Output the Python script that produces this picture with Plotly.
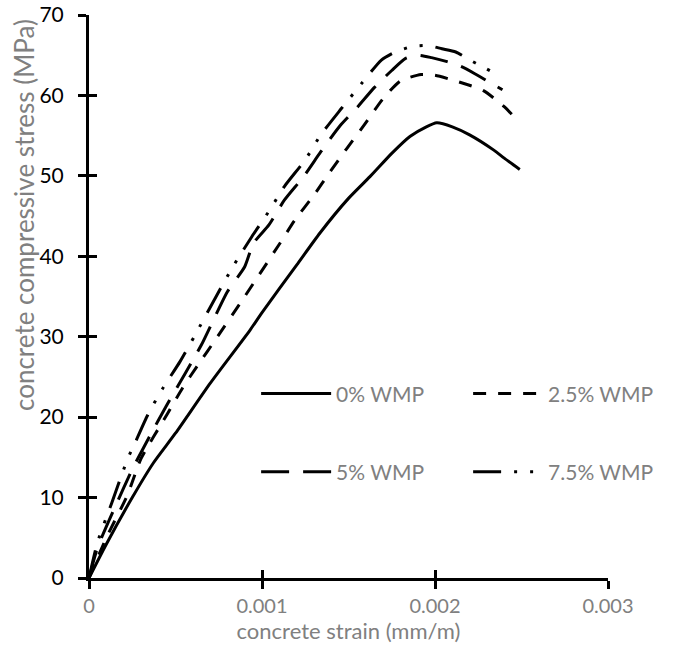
import plotly.graph_objects as go

# strain (mm/m) and stress (MPa)
strain_0 = [0, 0.0001, 0.00025, 0.000372, 0.0005, 0.0007, 0.00093, 0.001, 0.0012, 0.001335,
            0.0015, 0.001624, 0.00175, 0.001855, 0.00195, 0.00201, 0.0021, 0.0022, 0.00234,
            0.0024, 0.00249]
stress_0 = [0, 4.2, 10, 14.3, 18, 24.2, 30.8, 33.0, 38.9, 42.9,
            47.2, 49.9, 52.8, 54.9, 56.1, 56.6, 56.1, 55.1, 53.2,
            52.2, 50.8]

strain_25 = [0, 0.0001, 0.000222, 0.0003, 0.00045, 0.00054, 0.00063, 0.00073, 0.0009, 0.0011,
             0.00119, 0.0013, 0.00139, 0.00149, 0.00159, 0.0017, 0.0018, 0.00192, 0.002,
             0.00212, 0.00228, 0.0024, 0.00245]
stress_25 = [0, 5, 10.3, 14.8, 20.3, 23.6, 26.5, 29.6, 35, 41.5,
             44.5, 47.6, 50.4, 53.4, 56.3, 59.6, 61.8, 62.6, 62.5,
             61.8, 60.6, 58.6, 57.5]

strain_5 = [0, 0.00005, 0.00015, 0.00025, 0.00035, 0.00045, 0.00055, 0.00065, 0.0008, 0.0009,
            0.00095, 0.00104, 0.00113, 0.00124, 0.00134, 0.00145, 0.00155, 0.00165, 0.00175,
            0.00183, 0.0019, 0.00198, 0.00207, 0.00215, 0.00223, 0.00231, 0.00239]
stress_5 = [0, 3.8, 8.8, 13.5, 17.6, 21.5, 25.2, 29.0, 35.6, 38.7,
            41.6, 43.9, 47.0, 49.9, 53.0, 56.2, 58.5, 61.0, 63.1,
            64.6, 65.0, 64.7, 64.2, 63.6, 62.7, 61.7, 60.7]

strain_75 = [0, 0.00005, 0.000131, 0.000223, 0.000262, 0.00034, 0.000424, 0.000526, 0.000613,
             0.00075, 0.00084, 0.00094, 0.00104, 0.00113, 0.00125, 0.00134, 0.00146, 0.00158,
             0.00169, 0.00177, 0.00187, 0.00196, 0.00204, 0.00212, 0.00221, 0.00229, 0.00235]
stress_75 = [0, 4.5, 9.3, 14.8, 16.6, 20.3, 23.5, 26.9, 30.2,
             35.6, 39.0, 42.4, 45.6, 48.7, 52.0, 55.1, 58.4, 61.6,
             64.4, 65.4, 66.1, 66.2, 65.8, 65.4, 64.3, 63.4, 62.7]

x_ticks = [0, 0.001, 0.002, 0.003]
x_tick_text = ["0", "0.001", "0.002", "0.003"]
y_ticks = [0, 10, 20, 30, 40, 50, 60, 70]

FONT = "Lato"
GREY = "#808080"

series = [
    ("0% WMP", strain_0, stress_0, "solid", "legend"),
    ("2.5% WMP", strain_25, stress_25, "13px,12px", "legend"),
    ("5% WMP", strain_5, stress_5, "28px,14px", "legend2"),
    ("7.5% WMP", strain_75, stress_75, "28px,13px,3px,13px,3px,13px", "legend2"),
]

fig = go.Figure()
for name, xs, ys, dash, leg in series:
    fig.add_trace(go.Scatter(
        x=xs, y=ys, name=name, mode="lines", legend=leg,
        line=dict(color="black", width=3, dash=dash, shape="spline", smoothing=0.6),
    ))

# invisible trace so the overlay axes (inner half of the crossing ticks) get drawn
fig.add_trace(go.Scatter(x=[0], y=[0], xaxis="x2", yaxis="y2", mode="markers",
                         marker=dict(opacity=0), showlegend=False, hoverinfo="skip"))

legend_style = dict(orientation="h", xanchor="left", yanchor="middle",
                    itemwidth=70, entrywidth=127, entrywidthmode="pixels",
                    font=dict(size=21, color=GREY), bgcolor="rgba(0,0,0,0)")

fig.update_layout(
    width=676, height=659,
    margin=dict(t=15, b=81, l=89, r=68, autoexpand=False),
    plot_bgcolor="white", paper_bgcolor="white",
    font=dict(family=FONT, color=GREY, size=20),
    xaxis=dict(
        range=[0, 0.003], tickvals=x_ticks, ticktext=x_tick_text, automargin=False,
        showgrid=False, zeroline=False, showline=True, linecolor="black", linewidth=3,
        ticks="outside", ticklen=8, tickwidth=3, tickcolor="black",
        tickfont=dict(size=20, color=GREY), ticklabeloverflow="allow",
        title=dict(text="concrete strain (mm/m)", font=dict(size=22, color=GREY), standoff=2),
    ),
    yaxis=dict(
        range=[0, 70], tickvals=y_ticks, automargin=False,
        showgrid=False, zeroline=False, showline=True, linecolor="black", linewidth=3,
        ticks="outside", ticklen=8, tickwidth=3, tickcolor="black",
        tickfont=dict(size=21, color="black"), ticklabelstandoff=10,
        ticklabeloverflow="allow",
    ),
    xaxis2=dict(range=[0, 0.003], tickvals=x_ticks, overlaying="x", showticklabels=False,
                showgrid=False, zeroline=False, ticks="inside", ticklen=8, tickwidth=3,
                tickcolor="black", automargin=False),
    yaxis2=dict(range=[0, 70], tickvals=y_ticks, overlaying="y", showticklabels=False,
                showgrid=False, zeroline=False, ticks="inside", ticklen=8, tickwidth=3,
                tickcolor="black", automargin=False),
    legend=dict(x=0.322, y=0.327, **legend_style),
    legend2=dict(x=0.322, y=0.188, **legend_style),
    showlegend=True,
    annotations=[dict(
        text="concrete compressive stress (MPa)", textangle=-90,
        xref="paper", yref="paper", x=-0.125, y=0.645, xanchor="center", yanchor="middle",
        showarrow=False, font=dict(size=26, color=GREY),
    )],
)

# drop the default 8px body margin so the figure fills the window exactly
fig.write_html("out.html", config={"displayModeBar": False},
               post_script="document.body.style.margin='0';")
